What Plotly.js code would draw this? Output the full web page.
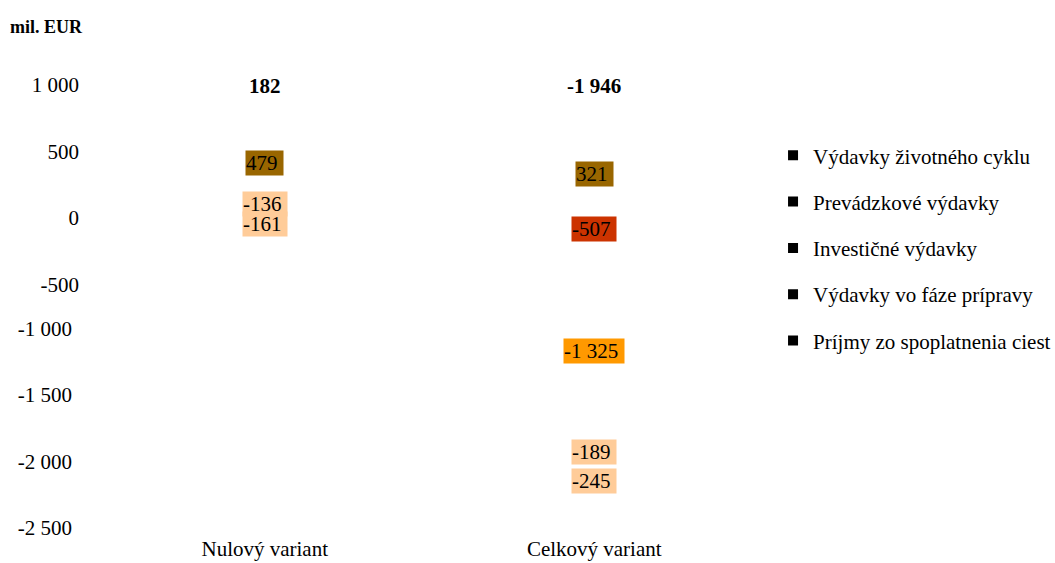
<!DOCTYPE html>
<html>
<head>
<meta charset="utf-8">
<script src="https://cdn.plot.ly/plotly-3.0.1.min.js"></script>
<style>html,body{margin:0;padding:0;background:#fff;}#chart{width:1055px;height:563px;}</style>
</head>
<body>
<div id="chart"></div>
<script>
// ---- data ----
const categories = ["Nulový variant", "Celkový variant"];
const seriesNames = ["Výdavky životného cyklu", "Prevádzkové výdavky", "Investičné výdavky", "Výdavky vo fáze prípravy", "Príjmy zo spoplatnenia ciest"];
const lifeCycle   = [479, 321];
const operating   = [null, -507];
const investment  = [null, -1325];
const preparation = [-136, -189];
const tolls       = [-161, -245];
const totals      = [182, -1946];
const lowerTicks  = [-1000, -1500, -2000, -2500];
const upperTicks  = [1000, 500, 0, -500];

// ---- styles ----
const seriesValues = [lifeCycle, operating, investment, preparation, tolls];
const seriesColors = ["#996600", "#CC3300", "#FF9900", "#FFCC99", "#FFCC99"];
const FONT = "Liberation Serif, Times New Roman, serif";
const totalLabelLevel = 820;

function fmt(v) {
  const s = Math.abs(v).toString().replace(/\B(?=(\d{3})+(?!\d))/g, " ");
  return (v < 0 ? "-" : "") + s;
}

const traces = [];
seriesNames.forEach((name, i) => {
  traces.push({
    type: "bar", name: name, x: categories, y: seriesValues[i],
    marker: {color: "rgba(0,0,0,0)", line: {width: 0}},
    showlegend: false, hoverinfo: "skip"
  });
});
seriesNames.forEach((name, i) => {
  traces.push({
    type: "scatter", mode: "markers", name: name, x: [null], y: [null], yaxis: "y2",
    legendgroup: "g" + i,
    marker: {symbol: "square", color: "#000", size: 10}
  });
});

// segment-centre labels following relative stacking
const annotations = [];
categories.forEach((cat, c) => {
  let pos = 0, neg = 0;
  seriesValues.forEach((vals, i) => {
    const v = vals[c];
    if (v === null || v === undefined) return;
    let mid;
    if (v >= 0) { mid = pos + v / 2; pos += v; } else { mid = neg + v / 2; neg += v; }
    annotations.push({
      x: cat, y: mid, xref: "x", yref: "y", text: fmt(v) + "\u00a0", showarrow: false,
      bgcolor: seriesColors[i], borderpad: 0,
      font: {family: FONT, size: 21, color: "#000"}
    });
  });
  annotations.push({
    x: cat, y: totalLabelLevel, xref: "x", yref: "y", text: "<b>" + fmt(totals[c]) + "</b>",
    showarrow: false, font: {family: FONT, size: 21, color: "#000"}
  });
});

const layout = {
  width: 1055, height: 563,
  margin: {l: 100, r: 296, t: 62, b: 35, autoexpand: false},
  paper_bgcolor: "#fff", plot_bgcolor: "#fff",
  barmode: "relative",
  font: {family: FONT, size: 21, color: "#000"},
  title: {text: "<b>mil. EUR</b>", x: 10 / 1055, xref: "container", xanchor: "left",
          y: 1 - 27 / 563, yref: "container", yanchor: "middle",
          font: {family: FONT, size: 18, color: "#000"}},
  xaxis: {type: "category", categoryarray: categories, range: [-0.5, 1.5],
          showgrid: false, zeroline: false, showline: false, ticks: "",
          ticklabelstandoff: 6,
          tickfont: {family: FONT, size: 21, color: "#000"}},
  yaxis: {range: [-2500, 1000], tickvals: lowerTicks, ticktext: lowerTicks.map(fmt),
          showgrid: false, zeroline: false, showline: false, ticks: "",
          ticklabelstandoff: 27, tickfont: {family: FONT, size: 21, color: "#000"}},
  yaxis2: {overlaying: "y", matches: "y", side: "left", anchor: "x",
           tickvals: upperTicks, ticktext: upperTicks.map(fmt), ticklabelshift: 23,
           showgrid: false, zeroline: false, showline: false, ticks: "",
           ticklabelstandoff: 20, tickfont: {family: FONT, size: 21, color: "#000"}},
  legend: {x: 1.0213, xanchor: "left", y: 0.843, yanchor: "top",
           tracegroupgap: 16, bgcolor: "rgba(0,0,0,0)",
           font: {family: FONT, size: 21, color: "#000"}},
  annotations: annotations,
  showlegend: true
};

Plotly.newPlot("chart", traces, layout, {displayModeBar: false, staticPlot: true});
</script>
</body>
</html>
